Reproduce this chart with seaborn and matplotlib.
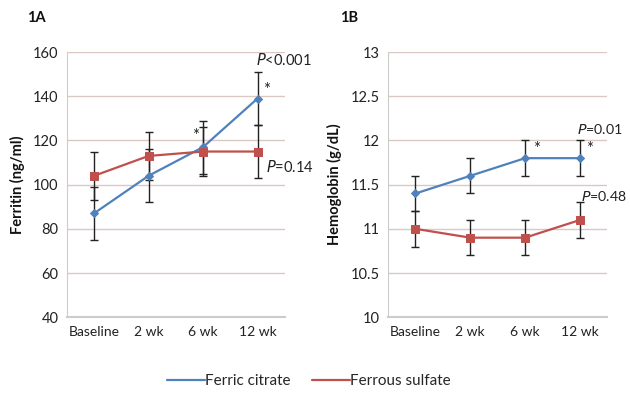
import numpy as np
import pandas as pd
import matplotlib
matplotlib.use("Agg")
import matplotlib.pyplot as plt
from matplotlib.lines import Line2D
import seaborn as sns

sns.set_style("white")
plt.rcParams['font.family'] = ['Lato', 'DejaVu Sans']

timepoints = ["Baseline", "2 wk", "6 wk", "12 wk"]
series = ["Ferric citrate", "Ferrous sulfate"]

ferritin_citrate = [87, 104, 117, 139]
ferritin_citrate_err = [12, 12, 12, 12]
ferritin_sulfate = [104, 113, 115, 115]
ferritin_sulfate_err = [11, 11, 11, 12]

hb_citrate = [11.4, 11.6, 11.8, 11.8]
hb_citrate_err = [0.2, 0.2, 0.2, 0.2]
hb_sulfate = [11.0, 10.9, 10.9, 11.1]
hb_sulfate_err = [0.2, 0.2, 0.2, 0.2]

colors = {"Ferric citrate": "#4F81BD", "Ferrous sulfate": "#C0504D"}
markers = {"Ferric citrate": "D", "Ferrous sulfate": "s"}
msizes = {"Ferric citrate": 4, "Ferrous sulfate": 6}

def make_df(a, ae, b, be):
    rows = []
    for i, t in enumerate(timepoints):
        rows.append(dict(x=i, t=t, val=a[i], err=ae[i], grp=series[0]))
        rows.append(dict(x=i, t=t, val=b[i], err=be[i], grp=series[1]))
    return pd.DataFrame(rows)

dfA = make_df(ferritin_citrate, ferritin_citrate_err, ferritin_sulfate, ferritin_sulfate_err)
dfB = make_df(hb_citrate, hb_citrate_err, hb_sulfate, hb_sulfate_err)

fig = plt.figure(figsize=(6.3, 3.95), dpi=100)
axA = fig.add_axes([0.106, 0.197, 0.346, 0.671])
axB = fig.add_axes([0.616, 0.197, 0.348, 0.671])

def draw(ax, df, ylim, yticks, ytl, ylabel):
    for g in series:
        d = df[df.grp == g]
        ax.errorbar(d.x, d.val, yerr=d.err, fmt="none", ecolor="#222222",
                    elinewidth=1.0, capsize=3, capthick=1.0, zorder=3)
    for g in series:
        d = df[df.grp == g]
        sns.lineplot(data=d, x="x", y="val", ax=ax, color=colors[g],
                     marker=markers[g], markersize=msizes[g],
                     markeredgecolor=colors[g], linewidth=1.6, zorder=4,
                     label=g, legend=False)
    ax.set_xlim(-0.5, 3.5)
    ax.set_ylim(*ylim)
    ax.set_yticks(yticks)
    ax.set_yticklabels(ytl, fontsize=10.5, color="#222222")
    ax.set_xticks(range(len(timepoints)))
    ax.set_xticklabels(timepoints, fontsize=10, color="#222222")
    ax.set_xlabel("")
    ax.set_ylabel(ylabel, fontsize=10.5, fontweight="bold", color="#111111", labelpad=6)
    for yv in yticks[1:]:
        ax.axhline(yv, color="#dcc8c2", linewidth=1.0, zorder=1)
    for s in ["top", "right"]:
        ax.spines[s].set_visible(False)
    ax.spines["left"].set_color("#cccccc")
    ax.spines["bottom"].set_color("#cccccc")
    ax.spines["bottom"].set_linewidth(1.5)
    ax.tick_params(axis="both", length=0, pad=6)

draw(axA, dfA, (40, 160), [40, 60, 80, 100, 120, 140, 160],
     ["40", "60", "80", "100", "120", "140", "160"], "Ferritin (ng/ml)")
draw(axB, dfB, (10, 13), [10, 10.5, 11, 11.5, 12, 12.5, 13],
     ["10", "10.5", "11", "11.5", "12", "12.5", "13"], "Hemoglobin (g/dL)")

# annotations panel A
axA.text(2.98, 156.5, r"$\it{P}$<0.001", fontsize=10.5, ha="left", va="center", color="#222222")
axA.text(3.15, 108, r"$\it{P}$=0.14", fontsize=10.5, ha="left", va="center", color="#222222")
axA.text(3.1, 143, "*", fontsize=12, ha="left", va="center", color="#222222")
axA.text(1.8, 122, "*", fontsize=12, ha="left", va="center", color="#222222")

# annotations panel B
axB.text(2.95, 12.13, r"$\it{P}$=0.01", fontsize=10.2, ha="left", va="center", color="#222222")
axB.text(3.02, 11.37, r"$\it{P}$=0.48", fontsize=10.2, ha="left", va="center", color="#222222")
axB.text(2.15, 11.9, "*", fontsize=12, ha="left", va="center", color="#222222")
axB.text(3.12, 11.9, "*", fontsize=12, ha="left", va="center", color="#222222")

fig.text(0.043, 0.945, "1A", fontsize=10.5, fontweight="bold", color="#111111")
fig.text(0.54, 0.945, "1B", fontsize=10.5, fontweight="bold", color="#111111")

hs = [Line2D([0], [0], color=colors[g], linewidth=1.6) for g in series]
fig.legend(hs, series, loc="center", bbox_to_anchor=(0.49, 0.035), ncol=2,
           frameon=False, fontsize=11, handlelength=2.5, handletextpad=0.0,
           columnspacing=1.4)

fig.savefig("out.png", dpi=100)
